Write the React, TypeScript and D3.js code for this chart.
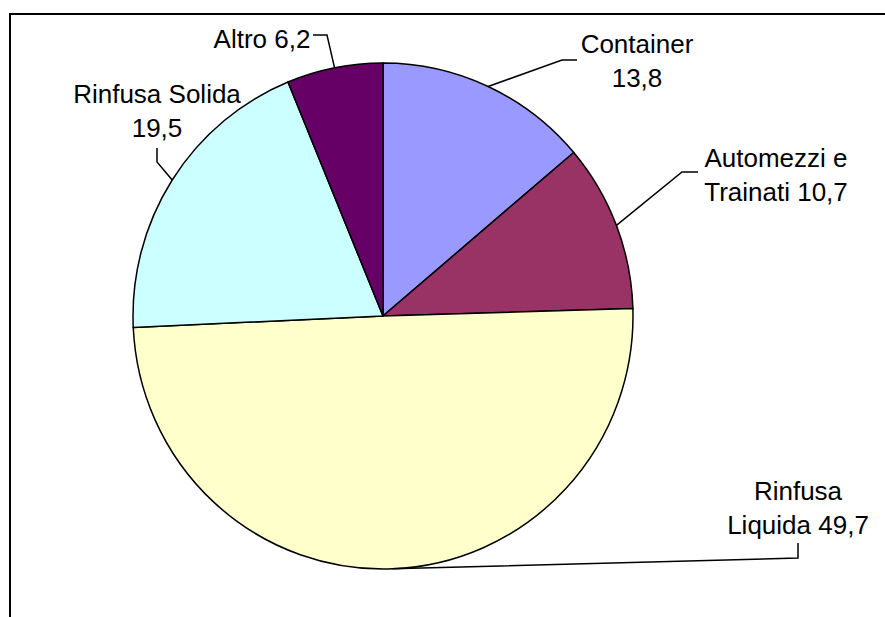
import React, { useEffect, useRef } from 'react';
import * as d3 from 'd3';

const categories = ['Container', 'Automezzi e Trainati', 'Rinfusa Liquida', 'Rinfusa Solida', 'Altro'];
const values = [13.8, 10.7, 49.7, 19.5, 6.2];
const colors = ['#9999FF', '#993366', '#FFFFCC', '#CCFFFF', '#660066'];

// label layout: text anchor position, words on first line, leader elbow
const labelLayout = [
  { x: 637, y: 53, firstLineWords: 1, elbow: [[562, 60], [577, 60]] },
  { x: 776, y: 167, firstLineWords: 2, elbow: [[682, 172], [698, 172]] },
  { x: 798, y: 500, firstLineWords: 1, elbow: [[798, 558], [798, 543]] },
  { x: 157, y: 103, firstLineWords: 2, elbow: [[157, 162], [157, 148]] },
  { x: 262, y: 48, firstLineWords: 3, elbow: [[327, 35], [313, 35]] },
];

const W = 885;
const H = 617;

const App = () => {
  const svgRef = useRef<SVGSVGElement>(null);

  useEffect(() => {
    const svg = d3.select(svgRef.current);
    svg.selectAll('*').remove();

    const cx = 383;
    const cy = 316;
    const radius = 250;
    const sy = 1.012; // the original pie is a touch taller than wide
    const fmt = (v: number) => String(v).replace('.', ',');

    // chart frame (runs off the right and bottom edges)
    svg
      .append('path')
      .attr('d', `M10,${H + 5} L10,14 L${W + 5},14`)
      .attr('fill', 'none')
      .attr('stroke', '#000')
      .attr('stroke-width', 2);

    const data = categories.map((c, i) => ({ label: c, value: values[i], color: colors[i], i }));

    const pie = d3
      .pie<any>()
      .value(d => d.value)
      .sort(null);
    const arc = d3.arc<any>().innerRadius(0).outerRadius(radius);

    const g = svg.append('g').attr('transform', `translate(${cx},${cy}) scale(1,${sy})`);
    const arcs = pie(data);

    g.selectAll('path')
      .data(arcs)
      .enter()
      .append('path')
      .attr('d', arc)
      .attr('fill', d => d.data.color)
      .attr('stroke', '#000')
      .attr('stroke-width', 1.5);

    arcs.forEach(d => {
      const lay = labelLayout[d.data.i];
      const mid = (d.startAngle + d.endAngle) / 2;
      const ax = cx + radius * Math.sin(mid);
      const ay = cy - radius * sy * Math.cos(mid);
      const pts: [number, number][] = [[ax, ay], ...(lay.elbow as [number, number][])];
      svg
        .append('path')
        .attr('d', d3.line()(pts))
        .attr('fill', 'none')
        .attr('stroke', '#000')
        .attr('stroke-width', 1.5);

      const words = `${d.data.label} ${fmt(d.data.value)}`.split(' ');
      const lines = [words.slice(0, lay.firstLineWords).join(' '), words.slice(lay.firstLineWords).join(' ')].filter(
        l => l.length > 0
      );
      const t = svg
        .append('text')
        .attr('x', lay.x)
        .attr('y', lay.y)
        .attr('text-anchor', 'middle')
        .style('font-family', 'Arial, "Liberation Sans", sans-serif')
        .style('font-size', '26px')
        .attr('fill', '#000');
      lines.forEach((l, k) => {
        t.append('tspan').attr('x', lay.x).attr('dy', k === 0 ? 0 : 34).text(l);
      });
    });
  }, []);

  return (
    <svg
      ref={svgRef}
      width={W}
      height={H}
      style={{ position: 'fixed', left: 0, top: 0, background: '#fff' }}
    ></svg>
  );
};

export default App;
